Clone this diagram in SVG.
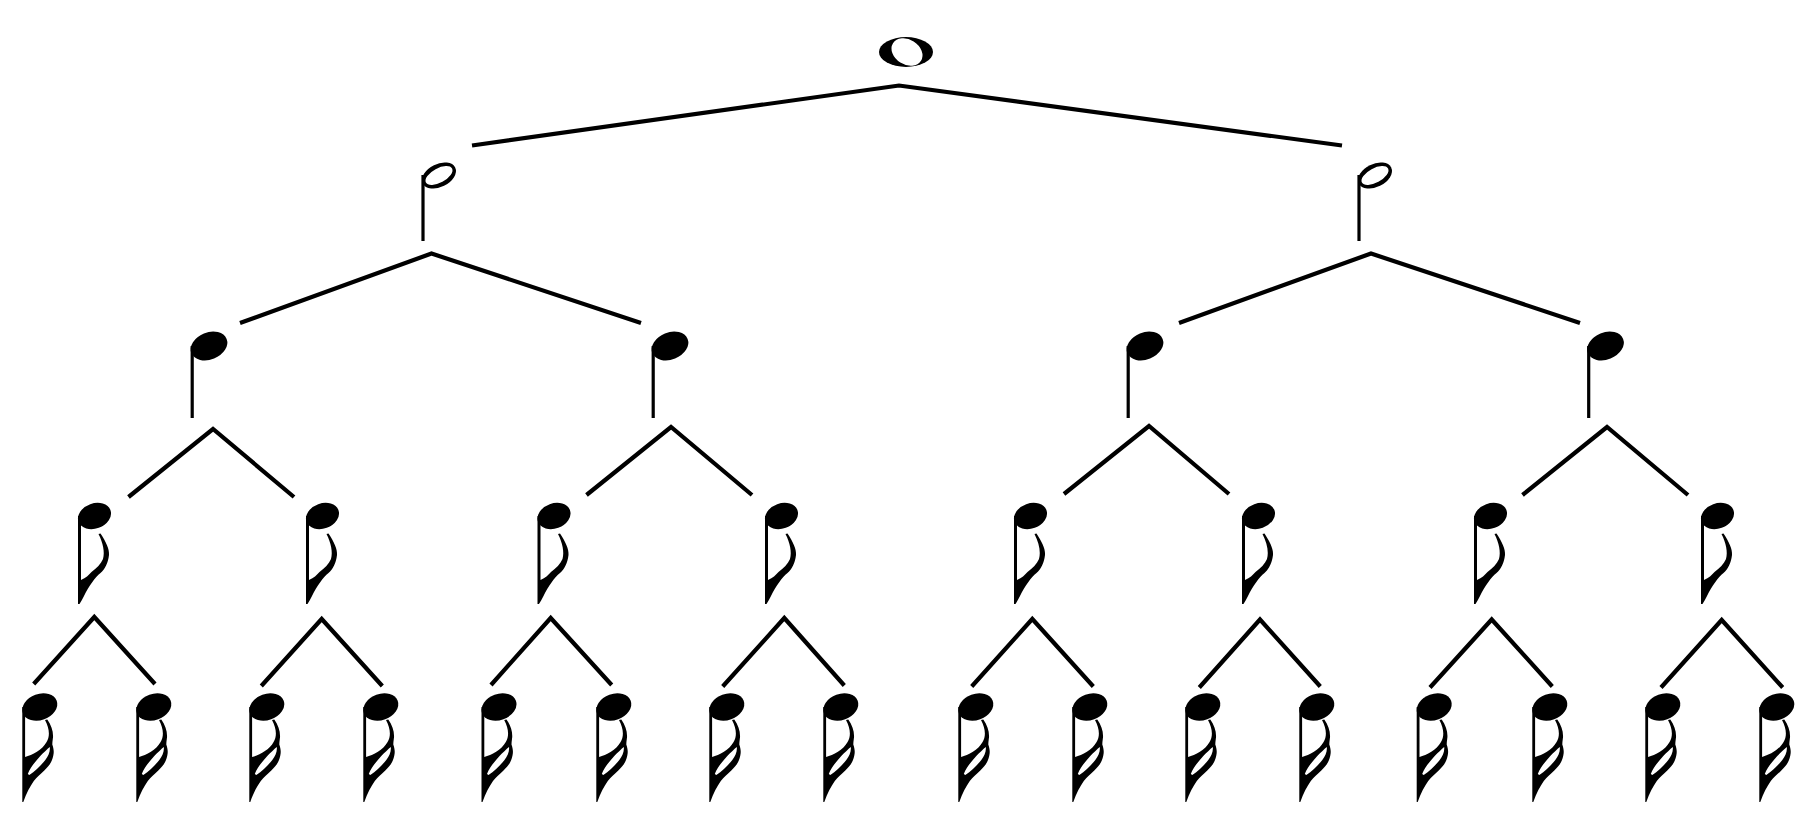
<svg xmlns="http://www.w3.org/2000/svg" width="1814" height="827" viewBox="0 0 1814 827">
<style>
.l{fill:none;stroke:#000;stroke-width:4.2;stroke-linejoin:miter}
.s{fill:none;stroke:#000;stroke-width:3.2}
.f{fill:#000;stroke:none}
</style>
<defs>
<g id="half"><ellipse cx="17" cy="-65.500" rx="18" ry="11.500" transform="rotate(-26 17 -65.500)" class="f"/><ellipse cx="17" cy="-65.500" rx="14.800" ry="7.200" transform="rotate(-28 17 -65.500)" fill="#fff"/><path class="s" d="M1,-66V0"/></g>
<g id="quarter"><ellipse cx="18" cy="-72" rx="19" ry="13.500" transform="rotate(-22 18 -72)" class="f"/><path class="s" d="M1.200,-72V0"/></g>
<g id="n16"><ellipse cx="16.500" cy="-88" rx="17" ry="12.500" transform="rotate(-20 16.500 -88)" class="f"/><path class="f" d="M0,-88H3V-24C8,-26 10.500,-29 13.500,-32C18.500,-36 23,-40 25,-45C27,-52 25,-61 20.500,-70L22.500,-70.500C28,-62 31.500,-55 31,-49C30,-41 27,-35 22.500,-31C17,-26.500 11,-18 6,-8C4.500,-5 3,-2.500 1.500,0L0,0Z"/></g>
<g id="n32"><ellipse cx="17.500" cy="-95" rx="18" ry="13" transform="rotate(-20 17.500 -95)" class="f"/><path class="f" fill-rule="evenodd" d="M0,-95H2.800V-45C10,-47 20,-52 24.300,-60C28,-66 27,-74 22.700,-82L25,-82.500C29.500,-76 31.500,-69 30.500,-63C30.200,-61 30,-59 30,-57.500C31.500,-53 31.800,-50 31,-46.500C29.500,-39 26,-35.500 22,-31.500C18,-27.500 14.500,-25 11.500,-21C8,-16 4,-9 1,0L0,0ZM27.500,-55C28,-50 26,-46 23,-42C19,-37 13,-31 7,-27L5.500,-28C8,-35 13,-40 18,-46C21,-49 25,-53 27.500,-55Z"/></g>
</defs>
<g id="connectors">
<path class="l" d="M472,145.500L899,85.500L1342,145.500"/>
<path class="l" d="M240,323L431.500,253.500L641,323"/>
<path class="l" d="M1179,323L1371,253.500L1580,323"/>
<path class="l" d="M128.500,497L213,429L294,497"/>
<path class="l" d="M586.500,495L671,427L752,495"/>
<path class="l" d="M1064,494L1149,426L1229,494"/>
<path class="l" d="M1522.500,495L1607,427L1688,495"/>
<path class="l" d="M33.700,684L94.300,617L155,684"/>
<path class="l" d="M261.300,686L321.700,619L382.300,686"/>
<path class="l" d="M491,685L550.700,618L611.700,685"/>
<path class="l" d="M722.700,686.500L784.300,618L844.300,685.500"/>
<path class="l" d="M971.700,686.500L1032.300,619L1093.300,686.500"/>
<path class="l" d="M1199.300,687.500L1260,619.500L1320.300,686.500"/>
<path class="l" d="M1430,687.500L1491.700,619.500L1552.300,686.500"/>
<path class="l" d="M1661,687.500L1721.700,620L1782.700,687.500"/>
</g>
<g id="n1"><ellipse cx="906" cy="52" rx="27" ry="15"/><ellipse cx="907" cy="52" rx="16.500" ry="12.500" transform="rotate(32 907 52)" fill="#fff"/></g>
<g id="n2"><use href="#half" x="422" y="241"/></g>
<g id="n3"><use href="#half" x="1358" y="241"/></g>
<g id="n4"><use href="#quarter" x="191" y="418"/></g>
<g id="n5"><use href="#quarter" x="652" y="418"/></g>
<g id="n6"><use href="#quarter" x="1127" y="418"/></g>
<g id="n7"><use href="#quarter" x="1587.500" y="418"/></g>
<g id="n8"><use href="#n16" x="78" y="604"/></g>
<g id="n9"><use href="#n16" x="306" y="604"/></g>
<g id="n10"><use href="#n16" x="537.500" y="604"/></g>
<g id="n11"><use href="#n16" x="765" y="604"/></g>
<g id="n12"><use href="#n16" x="1014" y="604"/></g>
<g id="n13"><use href="#n16" x="1242" y="604"/></g>
<g id="n14"><use href="#n16" x="1474" y="604"/></g>
<g id="n15"><use href="#n16" x="1701" y="604"/></g>
<g id="n16a"><use href="#n32" x="22.300" y="802"/></g>
<g id="n17"><use href="#n32" x="136.300" y="802"/></g>
<g id="n18"><use href="#n32" x="249.300" y="802"/></g>
<g id="n19"><use href="#n32" x="363.300" y="802"/></g>
<g id="n20"><use href="#n32" x="481.500" y="802"/></g>
<g id="n21"><use href="#n32" x="596.300" y="802"/></g>
<g id="n22"><use href="#n32" x="709.300" y="802"/></g>
<g id="n23"><use href="#n32" x="823.300" y="802"/></g>
<g id="n24"><use href="#n32" x="958.300" y="802"/></g>
<g id="n25"><use href="#n32" x="1072.300" y="802"/></g>
<g id="n26"><use href="#n32" x="1185.300" y="802"/></g>
<g id="n27"><use href="#n32" x="1299.300" y="802"/></g>
<g id="n28"><use href="#n32" x="1416.700" y="802"/></g>
<g id="n29"><use href="#n32" x="1532.300" y="802"/></g>
<g id="n30"><use href="#n32" x="1645.300" y="802"/></g>
<g id="n31"><use href="#n32" x="1759.300" y="802"/></g>
</svg>
